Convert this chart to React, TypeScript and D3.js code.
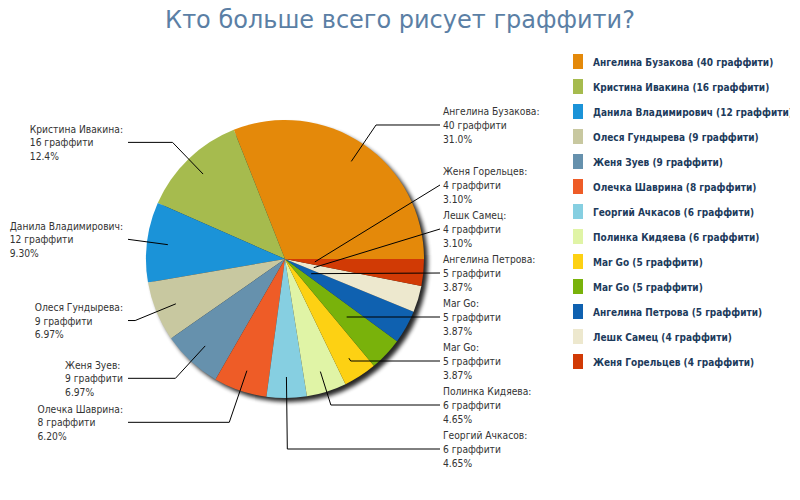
import React from 'react';
import * as d3 from 'd3';

const names = [
  'Ангелина Бузакова',
  'Кристина Ивакина',
  'Данила Владимирович',
  'Олеся Гундырева',
  'Женя Зуев',
  'Олечка Шаврина',
  'Георгий Ачкасов',
  'Полинка Кидяева',
  'Mar Go',
  'Mar Go',
  'Ангелина Петрова',
  'Лешк Самец',
  'Женя Горельцев',
];
const counts = [40, 16, 12, 9, 9, 8, 6, 6, 5, 5, 5, 4, 4];
const colors = [
  '#e4890a', '#a6bb4e', '#1b93d8', '#c8c8a0', '#6691ad', '#ee5c27', '#86cfe1',
  '#e0f4a6', '#fdd113', '#79b20b', '#0f61b0', '#ede8ce', '#d13a05',
];
const title = 'Кто больше всего рисует граффити?';
const unit = 'граффити';

const W = 800;
const H = 500;
const cx = 285;
const cy = 259;
const R = 139;
const anchorR = 118;
const elbowR = 162;
const gap = 44;
const maxY = 449;
const rightX = 440;
const leftX = 128;
const smallFont = '"DejaVu Sans Condensed", Tahoma, "DejaVu Sans", sans-serif';

// percent truncated to 3 significant digits, like the original chart
const pct = (v: number, total: number) => {
  const p = (v / total) * 100;
  const d = Math.max(0, 2 - Math.floor(Math.log10(p)));
  const m = Math.pow(10, d);
  return (Math.floor(p * m + 1e-9) / m).toFixed(d) + '%';
};

const PieChart = () => {
  const svgRef = React.useRef<SVGSVGElement>(null);

  React.useEffect(() => {
    document.body.style.margin = '0';
    const total = d3.sum(counts);
    const arcs = d3
      .pie<number>()
      .sort(null)
      .startAngle(Math.PI / 2)
      .endAngle(Math.PI / 2 - 2 * Math.PI)(counts);

    const svgEl = d3.select(svgRef.current);
    svgEl.selectAll('*').remove();

    const defs = svgEl.append('defs');
    const f = defs.append('filter').attr('id', 'shadow').attr('x', '-20%').attr('y', '-20%').attr('width', '140%').attr('height', '140%');
    f.append('feGaussianBlur').attr('stdDeviation', 2.2);
    defs.append('clipPath').attr('id', 'legclip').append('rect').attr('x', 0).attr('y', 0).attr('width', 790).attr('height', H);

    svgEl.append('rect').attr('width', W).attr('height', H).attr('fill', '#fff');

    // title
    svgEl
      .append('text')
      .attr('x', 400)
      .attr('y', 28)
      .attr('text-anchor', 'middle')
      .attr('font-family', 'Tahoma, "DejaVu Sans", sans-serif')
      .attr('font-size', 24)
      .attr('fill', '#5b7fa5')
      .text(title);

    // pie
    const g = svgEl.append('g').attr('transform', `translate(${cx},${cy})`);
    g.append('circle')
      .attr('cx', 4)
      .attr('cy', 4)
      .attr('r', R)
      .attr('fill', '#000')
      .attr('opacity', 0.85)
      .attr('filter', 'url(#shadow)');
    const arc = d3.arc<d3.PieArcDatum<number>>().innerRadius(0).outerRadius(R);
    g.selectAll('path.slice')
      .data(arcs)
      .enter()
      .append('path')
      .attr('class', 'slice')
      .attr('d', arc)
      .attr('fill', (_, i) => colors[i]);

    // label layout: natural spot on the ray, then pushed apart per side
    type Lab = { i: number; mid: number; right: boolean; nat: number; y: number };
    const labs: Lab[] = arcs.map((a, i) => {
      const mid = (a.startAngle + a.endAngle) / 2;
      return { i, mid, right: Math.sin(mid) > 0, nat: cy - Math.cos(mid) * elbowR, y: 0 };
    });
    [true, false].forEach(side => {
      const s = labs.filter(l => l.right === side).sort((a, b) => a.nat - b.nat);
      s.forEach((l, k) => {
        l.y = k === 0 ? l.nat : Math.max(l.nat, s[k - 1].y + gap);
      });
      if (s.length && s[s.length - 1].y > maxY) {
        s[s.length - 1].y = maxY;
        for (let k = s.length - 2; k >= 0; k--) s[k].y = Math.min(s[k].y, s[k + 1].y - gap);
      }
    });

    const lg = svgEl.append('g');
    labs.forEach(l => {
      const dx = Math.sin(l.mid);
      const dy = -Math.cos(l.mid);
      const endX = l.right ? rightX : leftX;
      const t = Math.abs(dy) > 1e-6 ? (l.y - cy) / dy : -1;
      let pts: [number, number][];
      if (t >= 30) {
        const ar = Math.min(anchorR, t);
        let ex = cx + dx * t;
        ex = l.right ? Math.min(ex, endX) : Math.max(ex, endX);
        pts = [[cx + dx * ar, cy + dy * ar], [ex, l.y], [endX, l.y]];
      } else {
        pts = [[cx + dx * 30, cy + dy * 30], [endX, l.y]];
      }
      lg.append('path')
        .attr('d', d3.line()(pts))
        .attr('fill', 'none')
        .attr('stroke', '#000')
        .attr('stroke-width', 1);

      const tg = lg
        .append('g')
        .attr('font-family', smallFont)
        .attr('font-size', 10.2)
        .attr('fill', '#333');
      const lines = [`${names[l.i]}:`, `${counts[l.i]} ${unit}`, pct(counts[l.i], total)];
      lines.forEach((txt, k) => {
        tg.append('text')
          .attr('x', 0)
          .attr('y', l.y + 4 + (k - 1) * 13.7)
          .text(txt);
      });
      const w = (tg.node() as SVGGElement).getBBox().width;
      tg.attr('transform', `translate(${l.right ? endX + 3 : endX - 5 - w},0)`);
    });

    // legend
    const y = d3
      .scaleBand<number>()
      .domain(d3.range(names.length))
      .range([49, 49 + 25 * names.length]);
    const leg = svgEl.append('g').attr('clip-path', 'url(#legclip)');
    const rows = leg
      .selectAll('g.row')
      .data(names)
      .enter()
      .append('g')
      .attr('class', 'row')
      .attr('transform', (_, i) => `translate(573,${(y(i) as number) + y.bandwidth() / 2})`);
    rows
      .append('rect')
      .attr('x', 0)
      .attr('y', -7.5)
      .attr('width', 10)
      .attr('height', 15)
      .attr('fill', (_, i) => colors[i]);
    rows
      .append('text')
      .attr('x', 20)
      .attr('y', 4)
      .attr('font-family', smallFont)
      .attr('font-weight', 'bold')
      .attr('font-size', 10)
      .attr('fill', '#1d3b5c')
      .text((d, i) => `${d} (${counts[i]} ${unit})`);
  }, []);

  return <svg ref={svgRef} width={W} height={H} style={{ display: 'block' }} />;
};

export default function App() {
  return <PieChart />;
}
